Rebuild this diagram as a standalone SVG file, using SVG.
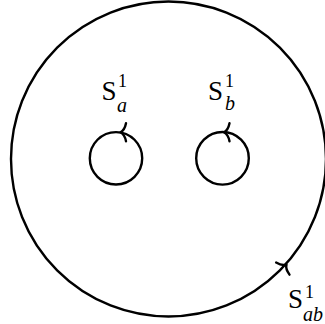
<svg xmlns="http://www.w3.org/2000/svg" width="325" height="324" viewBox="0 0 325 324">
<style>
.c{fill:none;stroke:#000;stroke-width:2.4}
.ah{fill:none;stroke:#000;stroke-width:2.4;stroke-linecap:round;stroke-linejoin:round}
.S{font-family:"Liberation Serif",serif;font-size:27px;fill:#000}
.sup{font-family:"Liberation Serif",serif;font-size:18px;fill:#000}
.sub{font-family:"Liberation Serif",serif;font-style:italic;font-size:20px;fill:#000}
</style>
<defs>
<path id="arr" d="M-5.5,-9 C-4.5,-4 -2,-1 0,0 C-2,1 -4.5,4 -5.5,9"/>
</defs>
<g id="outer">
<circle class="c" cx="168.5" cy="159" r="157.5"/>
<use href="#arr" class="ah" transform="translate(286.5,264.5) rotate(-48)"/>
<text class="S" x="288" y="308">S</text>
<text class="sup" x="305" y="298">1</text>
<text class="sub" x="303" y="321">ab</text>
</g>
<g id="a">
<circle class="c" cx="116" cy="158.3" r="26.2"/>
<use href="#arr" class="ah" transform="translate(120.5,132.3) rotate(180)"/>
<text class="S" x="101.5" y="100">S</text>
<text class="sup" x="118" y="87">1</text>
<text class="sub" x="117" y="112">a</text>
</g>
<g id="b">
<circle class="c" cx="222.5" cy="158.3" r="26.3"/>
<use href="#arr" class="ah" transform="translate(224,132.2) rotate(180)"/>
<text class="S" x="208" y="100">S</text>
<text class="sup" x="225" y="87">1</text>
<text class="sub" x="225" y="110">b</text>
</g>
<g id="connectors"></g>
</svg>
